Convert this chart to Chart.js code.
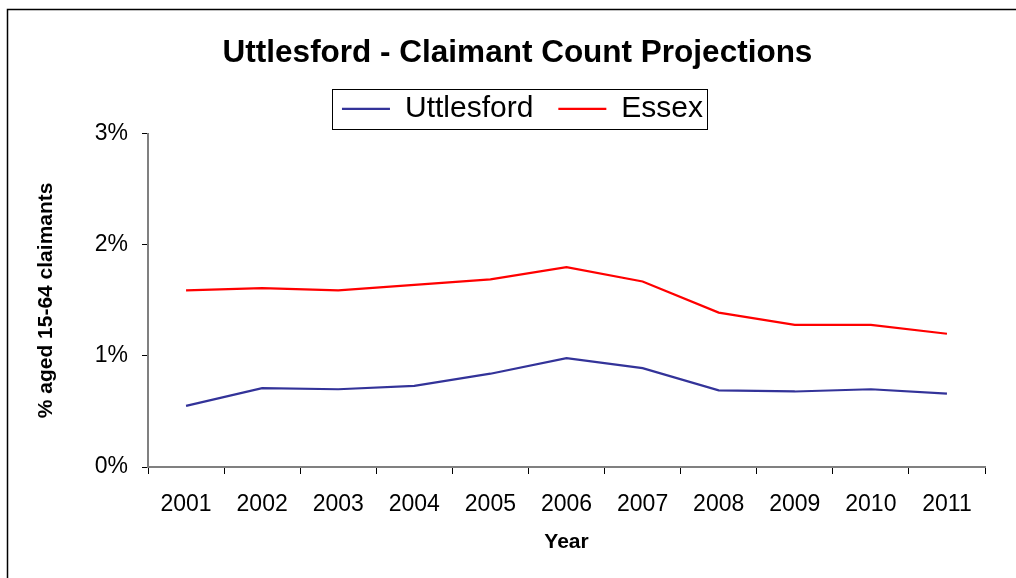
<!DOCTYPE html>
<html>
<head>
<meta charset="utf-8">
<script src="https://cdn.jsdelivr.net/npm/chart.js@4.4.1/dist/chart.umd.min.js"></script>
<style>
  body { margin: 0; background: #fff; }
  canvas { display: block; }
</style>
</head>
<body>
<canvas id="myChart" width="1016" height="578"></canvas>
<script>
var years = ['2001', '2002', '2003', '2004', '2005', '2006', '2007', '2008', '2009', '2010', '2011'];

var uttlesford = [0.55, 0.71, 0.70, 0.73, 0.84, 0.98, 0.89, 0.69, 0.68, 0.70, 0.66];

var essex = [1.59, 1.61, 1.59, 1.64, 1.69, 1.80, 1.67, 1.39, 1.28, 1.28, 1.20];

var yTicks = [0, 1, 2, 3];

var FONT = "'Liberation Sans', Arial, sans-serif";

// outer frame (only left/top edges are visible) and box round the legend
var framePlugin = {
  id: 'frame',
  afterLayout: function(chart) {
    // title and legend sit a little right of the plot centre in the original
    chart.titleBlock.left += 25;
    chart.titleBlock.right += 25;
    chart.legend.left += 30;
    chart.legend.right += 30;
  },
  beforeDraw: function(chart) {
    var c = chart.ctx;
    c.save();
    c.fillStyle = '#fff';
    c.fillRect(0, 0, chart.width, chart.height);
    c.strokeStyle = '#000';
    c.lineWidth = 1.5;
    c.strokeRect(7.5, 9.5, 1100, 1100);
    c.restore();
  },
  afterDraw: function(chart) {
    var boxes = chart.legend.legendHitBoxes;
    if (!boxes || !boxes.length) return;
    var l = Infinity, r = -Infinity, t = Infinity, b = -Infinity;
    boxes.forEach(function(h) {
      l = Math.min(l, h.left);
      r = Math.max(r, h.left + h.width);
      t = Math.min(t, h.top);
      b = Math.max(b, h.top + h.height);
    });
    var c = chart.ctx;
    c.save();
    c.strokeStyle = '#000';
    c.lineWidth = 1;
    c.strokeRect(Math.round(l - 10) + 0.5, Math.round(t - 5) + 0.5, Math.round(r - l + 14), Math.round(b - t + 10));
    c.restore();
  }
};

new Chart(document.getElementById('myChart').getContext('2d'), {
  type: 'line',
  data: {
    labels: years,
    datasets: [
      {
        label: 'Uttlesford',
        data: uttlesford,
        borderColor: '#333399',
        backgroundColor: '#333399',
        borderWidth: 2.2,
        pointRadius: 0,
        tension: 0
      }, {
        label: 'Essex',
        data: essex,
        borderColor: '#ff0000',
        backgroundColor: '#ff0000',
        borderWidth: 2.2,
        pointRadius: 0,
        tension: 0
      }
    ]
  },
  options: {
    responsive: false,
    animation: false,
    layout: { padding: { left: 0, right: 31, top: 0, bottom: 0 } },
    plugins: {
      title: {
        display: true,
        text: 'Uttlesford - Claimant Count Projections',
        color: '#000',
        font: { family: FONT, size: 31.5, weight: 'bold' },
        padding: { top: 34, bottom: -3 }
      },
      legend: {
        display: true,
        position: 'top',
        labels: {
          color: '#000',
          font: { family: FONT, size: 30 },
          usePointStyle: true,
          pointStyle: 'line',
          pointStyleWidth: 48,
          padding: 25
        }
      },
      tooltip: { enabled: false }
    },
    scales: {
      x: {
        offset: true,
        grid: {
          offset: true,
          drawOnChartArea: false,
          drawTicks: true,
          tickLength: 7,
          color: '#000'
        },
        border: { display: true, color: '#808080', width: 2 },
        ticks: {
          color: '#000',
          font: { family: FONT, size: 23 },
          padding: 17,
          maxRotation: 0
        },
        title: {
          display: true,
          text: 'Year',
          color: '#000',
          font: { family: FONT, size: 21, weight: 'bold' },
          padding: { top: 0, bottom: 23 }
        },
        afterFit: function(scale) { scale.height = 111; }
      },
      y: {
        min: 0,
        max: 3,
        afterBuildTicks: function(scale) {
          scale.ticks = yTicks.map(function(v) { return { value: v }; });
        },
        grid: {
          drawOnChartArea: false,
          drawTicks: true,
          tickLength: 6,
          color: '#000'
        },
        border: { display: true, color: '#808080', width: 2 },
        ticks: {
          color: '#000',
          font: { family: FONT, size: 23 },
          padding: 14,
          callback: function(v) { return v + '%'; }
        },
        title: {
          display: true,
          text: '% aged 15-64 claimants',
          color: '#000',
          font: { family: FONT, size: 21, weight: 'bold' },
          padding: { top: 34, bottom: 0 }
        },
        afterFit: function(scale) { scale.width = 148; }
      }
    }
  },
  plugins: [framePlugin]
});
</script>
</body>
</html>
